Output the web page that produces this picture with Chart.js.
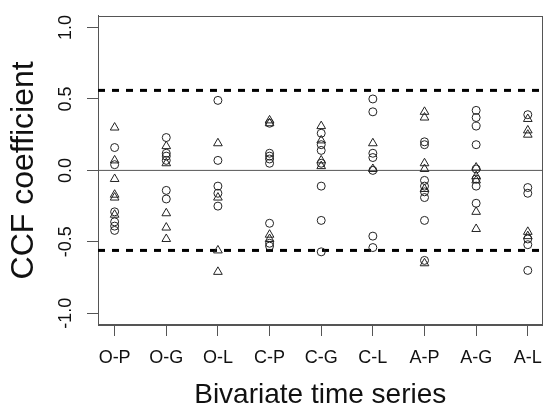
<!DOCTYPE html>
<html>
<head>
<meta charset="utf-8">
<script src="https://cdn.jsdelivr.net/npm/chart.js@4/dist/chart.umd.min.js"></script>
<style>
  html, body { margin: 0; padding: 0; background: #fff; }
  #wrap { width: 553px; height: 412px; }
</style>
</head>
<body>
<div id="wrap"><canvas id="c" width="553" height="412"></canvas></div>
<script>
// Categories (bivariate time series pairs)
const categories = ['O-P', 'O-G', 'O-L', 'C-P', 'C-G', 'C-L', 'A-P', 'A-G', 'A-L'];

// CCF coefficients drawn as open circles, one list per category
const circleValues = [
  [0.16, 0.04, -0.29, -0.36, -0.39, -0.42],
  [0.23, 0.12, 0.10, 0.07, -0.14, -0.20],
  [0.49, 0.07, -0.11, -0.16, -0.25],
  [0.33, 0.12, 0.10, 0.08, 0.05, -0.37, -0.51, -0.53],
  [0.26, 0.18, 0.14, 0.05, -0.11, -0.35, -0.57],
  [0.50, 0.41, 0.12, 0.09, 0.00, -0.46, -0.54],
  [0.20, 0.18, -0.07, -0.11, -0.15, -0.19, -0.35, -0.63],
  [0.42, 0.37, 0.31, 0.18, 0.01, -0.06, -0.11, -0.23],
  [0.39, -0.12, -0.16, -0.48, -0.52, -0.70]
];

// CCF coefficients drawn as open triangles, one list per category
const triangleValues = [
  [0.30, 0.07, -0.06, -0.17, -0.19, -0.31],
  [0.17, 0.05, -0.30, -0.40, -0.48],
  [0.19, -0.19, -0.56, -0.71],
  [0.35, 0.33, -0.45, -0.48],
  [0.31, 0.21, 0.07, 0.03],
  [0.19, 0.01],
  [0.41, 0.37, 0.05, 0.01, -0.13, -0.65],
  [0.02, -0.04, -0.07, -0.29, -0.41],
  [0.36, 0.28, 0.25, -0.43, -0.46]
];

// Axis ticks
const yTickValues = [-1.0, -0.5, 0.0, 0.5, 1.0];
const yTickLabels = ['-1.0', '-0.5', '0.0', '0.5', '1.0'];

// Reference lines
const zeroLineValue = [0];
const significanceBounds = [0.56, -0.56];

const xMin = 0.678, xMax = 9.285;
const yMin = -1.082, yMax = 1.082;

function toPoints(valueLists) {
  const pts = [];
  valueLists.forEach((vals, i) => vals.forEach(v => pts.push({ x: i + 1, y: v })));
  return pts;
}
function hLine(v) { return [{ x: xMin, y: v }, { x: xMax, y: v }]; }

const FONT = "'Liberation Sans', Arial, Helvetica, sans-serif";
const AXIS = '#555555';
const INK = '#222222';

const datasets = [];
zeroLineValue.forEach(v => datasets.push({
  type: 'line', data: hLine(v), borderColor: AXIS, borderWidth: 1,
  pointRadius: 0, fill: false, order: 5
}));
significanceBounds.forEach(v => datasets.push({
  type: 'line', data: hLine(v), borderColor: '#000', borderWidth: 3,
  borderDash: [7, 7], pointRadius: 0, fill: false, order: 4
}));
datasets.push({
  type: 'scatter', data: toPoints(circleValues), pointStyle: 'circle',
  pointRadius: 4, borderColor: INK, backgroundColor: 'rgba(0,0,0,0)',
  borderWidth: 1, order: 1
});
datasets.push({
  type: 'scatter', data: toPoints(triangleValues), pointStyle: 'triangle',
  pointRadius: 5, borderColor: INK, backgroundColor: 'rgba(0,0,0,0)',
  borderWidth: 1, order: 2
});

const frame = {
  id: 'frame',
  beforeDatasetsDraw(chart) {
    const { ctx, chartArea: a } = chart;
    ctx.save();
    ctx.strokeStyle = AXIS;
    ctx.lineWidth = 1;
    ctx.strokeRect(Math.round(a.left) + 0.5, Math.round(a.top) + 0.5,
      Math.round(a.right - a.left) - 1, Math.round(a.bottom - a.top) - 1);
    ctx.restore();
  }
};

new Chart(document.getElementById('c'), {
  type: 'scatter',
  data: { datasets },
  options: {
    responsive: false,
    animation: false,
    layout: { padding: { top: 8, right: 0, left: 0, bottom: 0 } },
    plugins: { legend: { display: false }, tooltip: { enabled: false } },
    elements: { line: { tension: 0 } },
    scales: {
      x: {
        type: 'linear', min: xMin, max: xMax,
        afterBuildTicks: s => { s.ticks = categories.map((c, i) => ({ value: i + 1 })); },
        afterFit: s => { s.height = 87; },
        ticks: {
          autoSkip: false, maxRotation: 0, minRotation: 0, padding: 11,
          color: '#111', font: { family: FONT, size: 18 },
          callback: v => categories[Math.round(v) - 1]
        },
        grid: { drawOnChartArea: false, drawTicks: true, tickLength: 11, color: AXIS, lineWidth: 1 },
        border: { display: true, color: AXIS, width: 1 },
        title: {
          display: true, text: 'Bivariate time series', color: '#111',
          font: { family: FONT, size: 28 }, padding: { top: 0, bottom: 0 }
        }
      },
      y: {
        type: 'linear', min: yMin, max: yMax,
        afterBuildTicks: s => { s.ticks = yTickValues.map(v => ({ value: v })); },
        afterFit: s => { s.width = 98; },
        ticks: {
          minRotation: 90, maxRotation: 90, crossAlign: 'center', padding: 5,
          color: '#111', font: { family: FONT, size: 18 },
          callback: v => yTickLabels[yTickValues.findIndex(t => Math.abs(t - v) < 1e-6)]
        },
        grid: { drawOnChartArea: false, drawTicks: true, tickLength: 11, color: AXIS, lineWidth: 1 },
        border: { display: true, color: AXIS, width: 1 },
        title: {
          display: true, text: 'CCF coefficient', color: '#111',
          font: { family: FONT, size: 32 }, padding: { top: 5, bottom: 0 }
        }
      }
    }
  },
  plugins: [frame]
});
</script>
</body>
</html>
